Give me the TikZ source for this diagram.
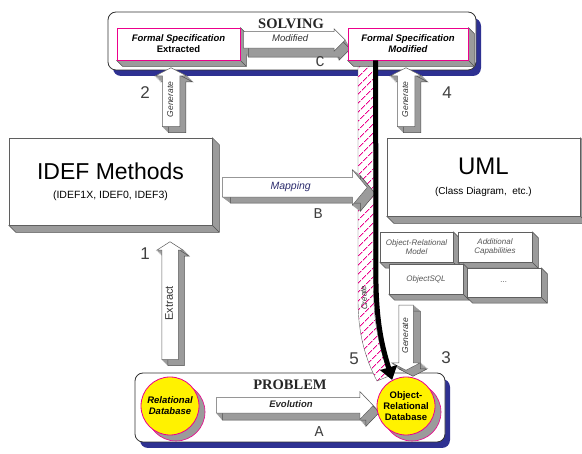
\documentclass[tikz,border=0pt]{standalone}
\usepackage{fontspec}
\setmainfont{Liberation Sans}
\newfontfamily\timesfont{Liberation Serif}
\newfontfamily\monofont{Liberation Mono}
\usepackage{xcolor}
\usetikzlibrary{arrows.meta,positioning,shapes.arrows,calc,patterns.meta,shadows}

\definecolor{frameblue}{RGB}{46,49,146}
\definecolor{sidegray}{RGB}{155,155,155}
\definecolor{sideedge}{RGB}{80,80,80}
\definecolor{faceedge}{RGB}{95,95,95}
\definecolor{magline}{RGB}{236,0,140}
\definecolor{dbyellow}{RGB}{255,242,0}
\definecolor{textdark}{RGB}{50,50,50}
\definecolor{textgray}{RGB}{85,85,85}
\definecolor{mapblue}{RGB}{45,45,110}

\pgfdeclarelayer{frame}
\pgfdeclarelayer{side}
\pgfsetlayers{frame,side,main}

% grey extruded side of a box node
\newcommand{\boxside}[2][6]{%
  \begin{pgfonlayer}{side}
    \filldraw[fill=sidegray, draw=sideedge, line width=0.5pt, line join=round]
      (#2.north east) -- ++(#1,#1) -- ($(#2.south east)+(#1,#1)$)
      -- ($(#2.south west)+(#1,#1)$) -- (#2.south west) -- (#2.south east) -- cycle;
    \draw[sideedge, line width=0.5pt] (#2.south east) -- ++(#1,#1);
  \end{pgfonlayer}}

% block arrow with an extruded grey side
\newcommand{\blockarrow}[6]{%
  \begin{pgfonlayer}{side}
    \foreach \k in {1,...,7}
      \node[#2, fill=sidegray, draw=sidegray] (#1-\k)
        at ($(#3)+(\k*#5/8,\k*#6/8)$) {\phantom{#4}};
    \node[#2, fill=sidegray, draw=sideedge] (#1-back)
      at ($(#3)+(#5,#6)$) {\phantom{#4}};
  \end{pgfonlayer}
  \node[#2] (#1) at (#3) {#4};}

\begin{document}
\begin{tikzpicture}[
    x=1pt, y=-1pt,
    frame/.style={
        rectangle,
        rounded corners=8pt,
        draw=black!80,
        line width=0.8pt,
        fill=white,
        general shadow={fill=frameblue, shadow xshift=5pt, shadow yshift=-6pt}
    },
    title/.style={
        font=\timesfont\bfseries\fontsize{14.5}{15}\selectfont,
        text=black!85
    },
    specbox/.style={
        rectangle,
        draw=magline,
        line width=0.8pt,
        fill=white,
        align=center,
        inner sep=2pt,
        font=\bfseries\fontsize{9.5}{11}\selectfont
    },
    bigbox/.style={
        rectangle,
        draw=faceedge,
        line width=0.6pt,
        fill=white,
        align=center
    },
    smallbox/.style={
        rectangle,
        draw=faceedge,
        line width=0.5pt,
        fill=white,
        align=center,
        inner sep=1pt,
        minimum width=74pt,
        minimum height=30pt,
        text=textgray,
        font=\itshape\fontsize{8}{9.5}\selectfont
    },
    dbcircle/.style={
        circle,
        draw=magline,
        line width=0.8pt,
        fill=dbyellow,
        minimum size=58pt,
        inner sep=0pt,
        align=center,
        font=\bfseries\fontsize{9.5}{11}\selectfont
    },
    blockarrow/.style={
        single arrow,
        draw=faceedge,
        line width=0.5pt,
        fill=white,
        single arrow head indent=0pt,
        single arrow tip angle=100,
        single arrow head extend=5pt,
        inner xsep=2pt,
        inner ysep=4pt,
        text height=6pt,
        text depth=2pt,
        anchor=tail,
        text=textdark,
        font=\itshape\fontsize{9}{10}\selectfont
    },
    genarrow/.style={
        blockarrow,
        rotate=90,
        inner ysep=4.5pt,
        single arrow head extend=7pt,
        single arrow tip angle=125,
        font=\itshape\fontsize{8.5}{10}\selectfont
    },
    steplabel/.style={
        font=\fontsize{17}{17}\selectfont,
        text=black!75
    },
    pathlabel/.style={
        font=\monofont\fontsize{15}{15}\selectfont,
        text=black!75
    },
    band/.style={
        preaction={fill=white},
        pattern={Lines[angle=45,distance=6.5pt,line width=1pt]},
        pattern color=magline,
        draw=faceedge,
        line width=0.4pt
    },
    createline/.style={
        line width=5pt,
        -{Triangle[length=13pt,width=17pt]}
    }
]
\useasboundingbox (0,0) rectangle (582,454);

% =========================
% Frames
% =========================

\begin{pgfonlayer}{frame}
\node[frame, minimum width=368pt, minimum height=58pt] (solving) at (292,41) {};
\node[frame, minimum width=310pt, minimum height=69pt] (problem) at (290,407.5) {};
\end{pgfonlayer}

\node[title] (solvingtitle) at (291,24) {SOLVING};
\node[title] (problemtitle) at (290,385) {PROBLEM};

% hatched create band
\begin{pgfonlayer}{side}
\path[band] (358,60) -- (358,300)
    .. controls (358,335) and (366,360) .. (377,381)
    -- (389,376)
    .. controls (381,350) and (373.5,330) .. (373.5,285)
    -- (373.5,60) -- cycle;
\end{pgfonlayer}

% =========================
% Solving
% =========================

\node[specbox, minimum width=123pt, minimum height=32pt] (fspecA) at (178.5,44)
{\itshape Formal Specification\\Extracted};

\node[specbox, minimum width=120pt, minimum height=32pt] (fspecB) at (408,44)
{\itshape Formal Specification\\\itshape Modified};

\boxside{fspecA}
\boxside{fspecB}

\blockarrow{modarrow}{blockarrow, minimum height=102pt,
    single arrow head extend=3pt, single arrow tip angle=90,
    font=\itshape\fontsize{9.5}{10}\selectfont}{243,40}{Modified}{5}{9}

\node[pathlabel] (labC) at (320,62) {C};

% =========================
% Methods
% =========================

\node[bigbox, minimum width=203pt, minimum height=87pt,
    font=\fontsize{10.5}{12}\selectfont] (idef) at (110.5,181.5)
{{\fontsize{23}{26}\selectfont IDEF Methods}\\[7pt](IDEF1X, IDEF0, IDEF3)};

\node[bigbox, minimum width=193pt, minimum height=78pt,
    font=\fontsize{10}{12}\selectfont] (uml) at (483.5,177)
{{\fontsize{24}{26}\selectfont UML}\\[8pt](Class Diagram,\ \ etc.)};

\boxside[7]{idef}
\boxside[7]{uml}

\node[smallbox, minimum width=73pt] (ormodel) at (416.5,247) {Object-Relational\\Model};
\node[smallbox] (addcap) at (495,247) {Additional\\Capabilities};
\node[smallbox] (objsql) at (426,279) {ObjectSQL};
\node[smallbox, minimum height=29pt] (etcbox) at (504,282.5) {...};

\boxside{ormodel}
\boxside{addcap}
\boxside{objsql}
\boxside{etcbox}

\blockarrow{maparrow}{blockarrow, minimum height=145pt,
    inner ysep=4.5pt, text height=7.5pt, text depth=2.5pt,
    single arrow head extend=8pt, text=mapblue,
    font=\itshape\fontsize{10.5}{12}\selectfont}{222,187.5}{Mapping}{8}{6}

\node[pathlabel] (labB) at (318,214) {B};

% =========================
% Generate / extract arrows
% =========================

\blockarrow{gen2}{genarrow, minimum height=59pt}{171,127}{Generate}{6}{6}
\blockarrow{gen4}{genarrow, minimum height=59pt}{406,127}{Generate}{6}{6}
\blockarrow{gen3}{genarrow, shape border rotate=180, minimum height=65pt,
    inner ysep=3pt}{406,305}{Generate}{7}{6}

\blockarrow{extract}{blockarrow, rotate=90, minimum height=118pt,
    text height=8pt, text depth=2.5pt, inner ysep=2.75pt,
    single arrow head extend=5pt, single arrow tip angle=115,
    font=\fontsize{11}{12}\selectfont}{170,360}{Extract}{6}{6}

\node[steplabel] (lab1) at (145,254) {1};
\node[steplabel] (lab2) at (145,93) {2};
\node[steplabel] (lab3) at (446,358) {3};
\node[steplabel] (lab4) at (447,93) {4};
\node[steplabel] (lab5) at (354,359) {5};

% =========================
% Problem
% =========================

\node[dbcircle, font=\bfseries\itshape\fontsize{9.5}{11}\selectfont] (reldb) at (170,406)
{Relational\\Database};
\node[dbcircle] (ordb) at (406,406) {Object-\\Relational\\Database};

\begin{pgfonlayer}{side}
\filldraw[fill=sidegray, draw=magline, line width=0.6pt] ($(reldb.center)+(6,6)$) circle[radius=29pt];
\filldraw[fill=sidegray, draw=magline, line width=0.6pt] ($(ordb.center)+(6,6)$) circle[radius=29pt];
\end{pgfonlayer}

\blockarrow{evoarrow}{blockarrow, minimum height=157pt,
    inner ysep=3pt, text height=7pt, text depth=2pt,
    single arrow head extend=6pt, single arrow tip angle=92, text=black!85,
    font=\bfseries\itshape\fontsize{9.5}{11}\selectfont}{216,405.5}{Evolution}{6}{7}

\node[pathlabel] (labA) at (319,432) {A};

% =========================
% Create
% =========================

\coordinate (createtop) at ($(fspecB.south west)+(28,0)$);

\draw[createline] (createtop) -- (376,285)
    .. controls (377,330) and (384,352) .. (ordb.118);

\node[rotate=93, font=\itshape\fontsize{8}{9}\selectfont, text=textdark] (createtext) at (364,298) {Create};

\end{tikzpicture}
\end{document}
